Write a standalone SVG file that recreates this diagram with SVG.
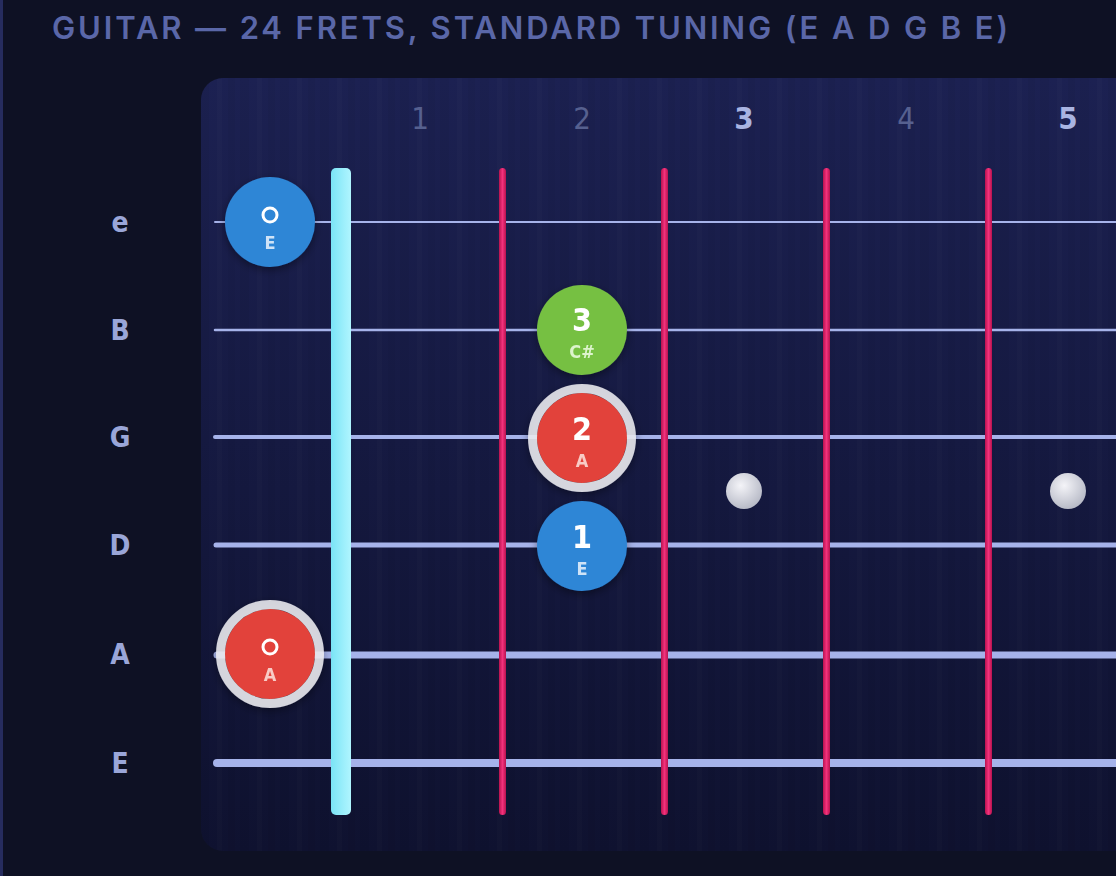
<svg xmlns="http://www.w3.org/2000/svg" width="1116" height="876" viewBox="0 0 1116 876">
<defs>
<linearGradient id="board" x1="0" y1="0" x2="0" y2="1">
<stop offset="0" stop-color="#1c2152"/>
<stop offset="1" stop-color="#0f1230"/>
</linearGradient>
<linearGradient id="fretg" x1="0" y1="0" x2="1" y2="0">
<stop offset="0" stop-color="#b8124f"/>
<stop offset="0.5" stop-color="#f2327c"/>
<stop offset="1" stop-color="#b8124f"/>
</linearGradient>
<linearGradient id="nutg" x1="0" y1="0" x2="1" y2="0">
<stop offset="0" stop-color="#7ae4f6"/>
<stop offset="1" stop-color="#b0f5ff"/>
</linearGradient>
<radialGradient id="dotg" cx="0.4" cy="0.35" r="0.7">
<stop offset="0" stop-color="#f4f4f8"/>
<stop offset="1" stop-color="#b4b7c4"/>
</radialGradient>
<pattern id="grain" x="0" y="0" width="40" height="10" patternUnits="userSpaceOnUse">
<rect x="0" y="0" width="9" height="10" fill="#000" opacity="0.035"/>
<rect x="17" y="0" width="5" height="10" fill="#fff" opacity="0.01"/>
<rect x="28" y="0" width="7" height="10" fill="#000" opacity="0.03"/>
</pattern>
<filter id="sh" x="-30%" y="-30%" width="160%" height="160%">
<feDropShadow dx="0" dy="3" stdDeviation="4" flood-color="#000" flood-opacity="0.4"/>
</filter>
</defs>
<style>
.title{font-family:"Inter","Liberation Sans",sans-serif;font-weight:600;font-size:31px;fill:#5a67a8;letter-spacing:2px}
.fnum{font-family:"DejaVu Sans Condensed","Roboto",sans-serif;font-size:31px;text-anchor:middle;fill:#56608f}
.fnum.b{font-weight:bold;fill:#a9b4e2}
.slab{font-family:"DejaVu Sans Condensed","Roboto",sans-serif;font-weight:bold;font-size:28px;text-anchor:middle;fill:#9aa6d8}
.str{stroke:#a6b3ea;stroke-linecap:round;fill:none}
.fret{fill:url(#fretg)}
.num{font-family:"DejaVu Sans Condensed","Roboto",sans-serif;font-weight:bold;font-size:32px;text-anchor:middle;fill:#ffffff}
.nt{font-family:"DejaVu Sans Condensed","Roboto",sans-serif;font-weight:bold;font-size:18px;text-anchor:middle}
.ring{fill:none;stroke:#ececf0;stroke-opacity:0.88;stroke-width:9}
.open{fill:none;stroke:#ffffff;stroke-width:3}
</style>
<rect x="0" y="0" width="1116" height="876" fill="#0e1124"/>
<rect x="0" y="0" width="3" height="876" fill="#262c5e"/>
<text class="title" x="52" y="39" textLength="958" lengthAdjust="spacing">GUITAR — 24 FRETS, STANDARD TUNING (E A D G B E)</text>
<g id="fretboard">
<rect x="201" y="78" width="960" height="773" rx="22" fill="url(#board)"/>
<rect x="201" y="78" width="960" height="773" rx="22" fill="url(#grain)"/>
</g>
<g id="fret-numbers">
<text class="fnum" x="420" y="129">1</text>
<text class="fnum" x="582" y="129">2</text>
<text class="fnum b" x="744" y="129">3</text>
<text class="fnum" x="906" y="129">4</text>
<text class="fnum b" x="1068" y="129">5</text>
</g>
<g id="string-labels">
<text class="slab" x="120" y="232">e</text>
<text class="slab" x="120" y="340">B</text>
<text class="slab" x="120" y="447">G</text>
<text class="slab" x="120" y="555">D</text>
<text class="slab" x="120" y="664">A</text>
<text class="slab" x="120" y="773">E</text>
</g>
<g id="inlays">
<circle cx="744" cy="491" r="18" fill="url(#dotg)"/>
<circle cx="1068" cy="491" r="18" fill="url(#dotg)"/>
</g>
<g id="strings">
<line class="str" x1="215" y1="222" x2="1130" y2="222" stroke-width="2"/>
<line class="str" x1="215" y1="330" x2="1130" y2="330" stroke-width="2.5"/>
<line class="str" x1="215" y1="437" x2="1130" y2="437" stroke-width="4"/>
<line class="str" x1="216" y1="545" x2="1130" y2="545" stroke-width="5"/>
<line class="str" x1="217" y1="655" x2="1130" y2="655" stroke-width="7"/>
<line class="str" x1="217" y1="763" x2="1130" y2="763" stroke-width="8"/>
</g>
<g id="frets">
<rect class="fret" x="499" y="168" width="7" height="647" rx="3.5"/>
<rect class="fret" x="661" y="168" width="7" height="647" rx="3.5"/>
<rect class="fret" x="823" y="168" width="7" height="647" rx="3.5"/>
<rect class="fret" x="985" y="168" width="7" height="647" rx="3.5"/>
</g>
<g id="nut">
<rect x="331" y="168" width="20" height="647" rx="5" fill="url(#nutg)"/>
</g>
<g id="note-open-e" filter="url(#sh)">
<circle cx="270" cy="222" r="45" fill="#2f86d6"/>
<circle class="open" cx="270" cy="215" r="7"/>
<text class="nt" x="270" y="249" fill="#cfe3f7">E</text>
</g>
<g id="note-open-a" filter="url(#sh)">
<circle cx="270" cy="654" r="45" fill="#e2433a"/>
<circle class="ring" cx="270" cy="654" r="49.5"/>
<circle class="open" cx="270" cy="647" r="7"/>
<text class="nt" x="270" y="681" fill="#f8cbc6">A</text>
</g>
<g id="note-b2" filter="url(#sh)">
<circle cx="582" cy="330" r="45" fill="#76c043"/>
<text class="num" x="582" y="331">3</text>
<text class="nt" x="582" y="358" fill="#dcf3cc">C#</text>
</g>
<g id="note-g2" filter="url(#sh)">
<circle cx="582" cy="438" r="45" fill="#e2433a"/>
<circle class="ring" cx="582" cy="438" r="49.5"/>
<text class="num" x="582" y="440">2</text>
<text class="nt" x="582" y="467" fill="#f8cbc6">A</text>
</g>
<g id="note-d2" filter="url(#sh)">
<circle cx="582" cy="546" r="45" fill="#2f86d6"/>
<text class="num" x="582" y="548">1</text>
<text class="nt" x="582" y="575" fill="#cfe3f7">E</text>
</g>
</svg>
